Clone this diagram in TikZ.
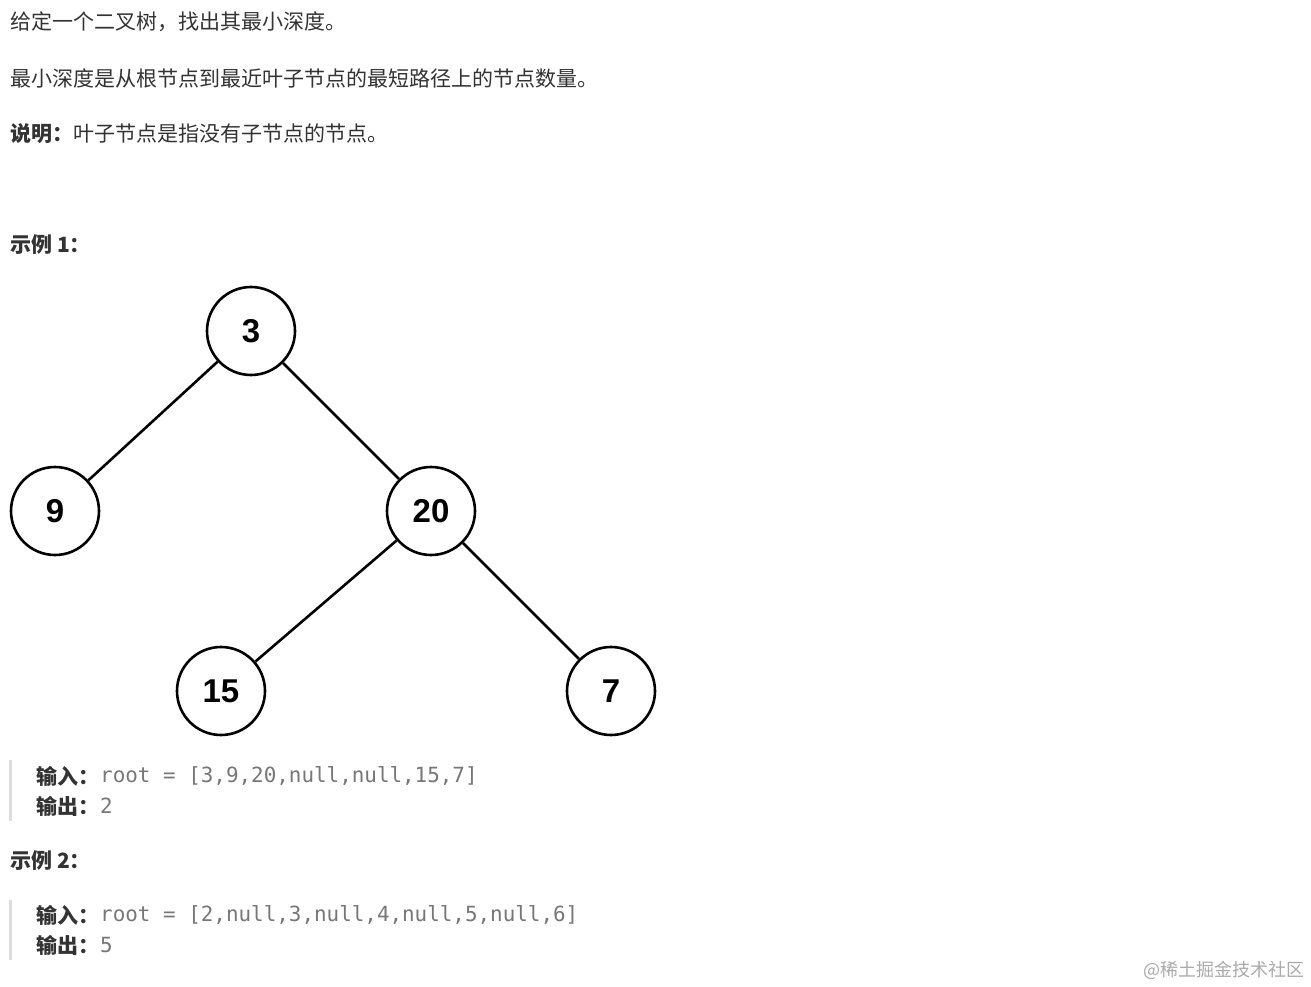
\documentclass[tikz,border=0pt]{standalone}
\usepackage{fontspec}
\newfontfamily\cjk{Noto Sans CJK SC}
\newfontfamily\mono{DejaVu Sans Mono}
\newfontfamily\num{Liberation Sans}
\definecolor{txt}{HTML}{333333}
\definecolor{codegray}{HTML}{777777}
\definecolor{barcol}{HTML}{DDDDDD}
\definecolor{wm}{HTML}{AAAAAA}
\begin{document}
\begin{tikzpicture}[x=1pt,y=-1pt,
  para/.style={anchor=west,inner sep=0pt,text=txt,font=\cjk\fontsize{21}{24}\selectfont},
  code/.style={anchor=west,inner sep=0pt,text=codegray,font=\mono\fontsize{20.9}{24}\selectfont},
  tnode/.style={circle,draw=black,line width=2.6pt,minimum size=88pt,inner sep=0pt,font=\num\bfseries\fontsize{33}{36}\selectfont},
  tedge/.style={line width=2.6pt},
  bar/.style={fill=barcol,draw=none}]
\useasboundingbox[fill=white] (0,0) rectangle (1311,987);
% text
\node[para] (l1) at (10,22) {给定一个二叉树，找出其最小深度。};
\node[para] (l2) at (10,79) {最小深度是从根节点到最近叶子节点的最短路径上的节点数量。};
\node[para] (l3) at (10,134) {\textbf{说明：}叶子节点是指没有子节点的节点。};
\node[para] (ex1) at (10,245) {\textbf{示例 1：}};
% tree
\node[tnode] (n3) at (251,331) {3};
\node[tnode] (n9) at (55,511) {9};
\node[tnode] (n20) at (431,511) {20};
\node[tnode] (n15) at (221,691) {15};
\node[tnode] (n7) at (611,691) {7};
\draw[tedge] (n3) -- (n9);
\draw[tedge] (n3) -- (n20);
\draw[tedge] (n20) -- (n15);
\draw[tedge] (n20) -- (n7);
% example 1 block
\fill[bar] (9,760) rectangle (12,821);
\node[para] (in1) at (36,776) {\textbf{输入：}};
\node[code] (c1) at (100,776) {root = [3,9,20,null,null,15,7]};
\node[para] (out1) at (36,806) {\textbf{输出：}};
\node[code] (o1) at (100,806) {2};
% example 2
\node[para] (ex2) at (10,861) {\textbf{示例 2：}};
\fill[bar] (9,900) rectangle (12,960);
\node[para] (in2) at (36,915) {\textbf{输入：}};
\node[code] (c2) at (100,915) {root = [2,null,3,null,4,null,5,null,6]};
\node[para] (out2) at (36,945) {\textbf{输出：}};
\node[code] (o2) at (100,945) {5};
% watermark
\node[anchor=east,inner sep=0pt,text=wm,font=\cjk\fontsize{18}{20}\selectfont] (wmk) at (1305,970) {@稀土掘金技术社区};
\end{tikzpicture}
\end{document}
